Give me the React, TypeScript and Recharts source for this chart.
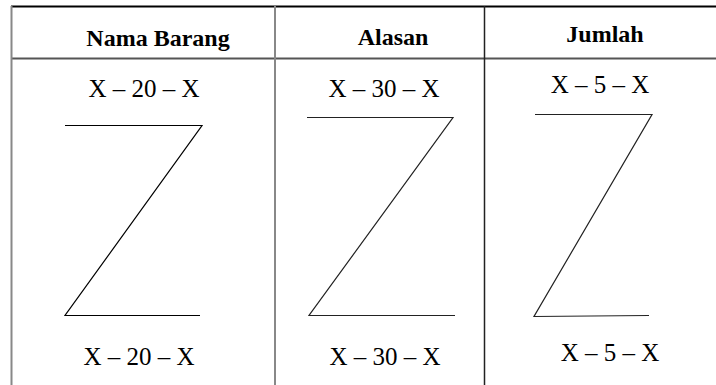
import React from 'react';
import { ComposedChart, XAxis, YAxis, ReferenceLine, Scatter } from 'recharts';

// Column headers and cell labels
const headers = ['Nama Barang', 'Alasan', 'Jumlah'];
const topLabels = ['X – 20 – X', 'X – 30 – X', 'X – 5 – X'];
const bottomLabels = ['X – 20 – X', 'X – 30 – X', 'X – 5 – X'];

// Z-shape vertices (diagram coordinates)
const zNama = [
  { x: 65, y: 125.5 },
  { x: 202, y: 125.5 },
  { x: 65, y: 315.5 },
  { x: 200, y: 315.5 },
];
const zAlasan = [
  { x: 307, y: 117.5 },
  { x: 453, y: 117.5 },
  { x: 309, y: 315.5 },
  { x: 455, y: 315.5 },
];
const zJumlah = [
  { x: 535, y: 114.5 },
  { x: 652, y: 114.5 },
  { x: 534, y: 316.5 },
  { x: 649, y: 315.5 },
];

// Layout of the table
const W = 716;
const H = 385;
const headerPos = [
  { x: 158, y: 46 },
  { x: 393, y: 45 },
  { x: 605, y: 42 },
];
const topPos = [
  { x: 144, y: 97 },
  { x: 384, y: 97 },
  { x: 600, y: 93 },
];
const bottomPos = [
  { x: 139, y: 365 },
  { x: 385, y: 365 },
  { x: 610, y: 361 },
];

const headerData = headers.map((t, i) => ({ ...headerPos[i], t }));
const topData = topLabels.map((t, i) => ({ ...topPos[i], t }));
const bottomData = bottomLabels.map((t, i) => ({ ...bottomPos[i], t }));

const makeText = (bold: boolean, size: number) => (props: any) => {
  const { cx, cy, payload } = props;
  return (
    <text
      x={cx}
      y={cy}
      textAnchor="middle"
      fontFamily="'Liberation Serif', 'Times New Roman', serif"
      fontWeight={bold ? 700 : 400}
      fontSize={size}
      fill="#000"
    >
      {payload.t}
    </text>
  );
};

const noShape = () => <g />;

export default function App() {
  return (
    <div style={{ position: 'fixed', left: 0, top: 0, width: W, height: H, background: '#fff' }}>
      <ComposedChart width={W} height={H} margin={{ top: 0, right: 0, bottom: 0, left: 0 }}>
        <XAxis type="number" dataKey="x" domain={[0, W]} hide allowDataOverflow />
        <YAxis type="number" dataKey="y" domain={[0, H]} reversed hide allowDataOverflow />

        {/* table borders */}
        <ReferenceLine segment={[{ x: 11, y: 6.5 }, { x: W, y: 6.5 }]} stroke="#000" strokeWidth={2} ifOverflow="visible" />
        <ReferenceLine segment={[{ x: 11, y: 58.5 }, { x: W, y: 58.5 }]} stroke="#555" strokeWidth={2} ifOverflow="visible" />
        <ReferenceLine segment={[{ x: 11.5, y: 6 }, { x: 11.5, y: H }]} stroke="#888" strokeWidth={2} ifOverflow="visible" />
        <ReferenceLine segment={[{ x: 275, y: 6 }, { x: 275, y: H }]} stroke="#888" strokeWidth={2} ifOverflow="visible" />
        <ReferenceLine segment={[{ x: 484.5, y: 6 }, { x: 484.5, y: H }]} stroke="#222" strokeWidth={1.5} ifOverflow="visible" />

        <Scatter data={zNama} dataKey="y" line={{ stroke: '#000', strokeWidth: 1.2 }} lineType="joint" shape={noShape} isAnimationActive={false} />
        <Scatter data={zAlasan} dataKey="y" line={{ stroke: '#222', strokeWidth: 1.2 }} lineType="joint" shape={noShape} isAnimationActive={false} />
        <Scatter data={zJumlah} dataKey="y" line={{ stroke: '#222', strokeWidth: 1.2 }} lineType="joint" shape={noShape} isAnimationActive={false} />

        <Scatter data={headerData} dataKey="y" shape={makeText(true, 24)} isAnimationActive={false} />
        <Scatter data={topData} dataKey="y" shape={makeText(false, 25)} isAnimationActive={false} />
        <Scatter data={bottomData} dataKey="y" shape={makeText(false, 25)} isAnimationActive={false} />
      </ComposedChart>
    </div>
  );
}
